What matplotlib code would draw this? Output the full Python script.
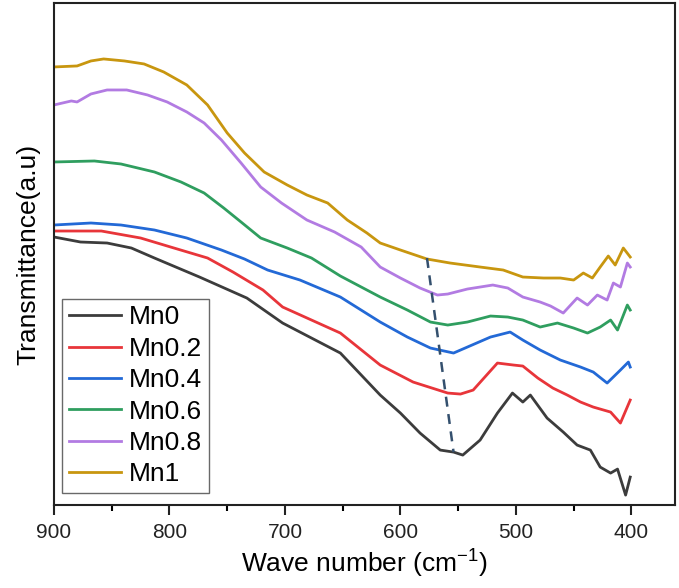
import matplotlib
matplotlib.use("Agg")
import matplotlib.pyplot as plt
from matplotlib.ticker import MultipleLocator

plt.rcParams['font.family'] = ['Liberation Sans', 'DejaVu Sans']

# FTIR spectra, wavenumber (cm-1) vs transmittance (a.u., offset)
mn0_x = [900, 877, 854, 833, 813, 774, 733, 702, 652, 617.5, 600, 583, 565.5, 554, 546, 531,
         516, 503, 494, 487.5, 473, 459, 447, 435.5, 427, 418, 412, 405, 401]
mn0_y = [268, 263, 262, 257, 247, 228, 207, 182, 152, 110, 92, 72, 55, 53, 50, 65,
         92, 112, 103, 110, 87, 73, 60, 55, 38, 32, 36, 10, 28]

mn02_x = [900, 859, 825, 799, 767, 745, 719, 702, 652, 617.5, 589, 559, 548, 537, 516, 502,
          494, 481, 468, 455.5, 444, 433, 418, 409.5, 401]
mn02_y = [274, 274, 267, 258, 247, 233, 215, 198, 172, 140, 123, 112, 111, 115, 142, 140,
          139, 127, 117, 110, 103, 98, 93, 82, 105]

mn04_x = [900, 868, 842, 813, 785, 755, 735, 715, 687, 652, 617.5, 594, 574, 554, 542, 522,
          505, 494, 479, 461.5, 444, 433, 421, 409.5, 402.6, 401]
mn04_y = [280, 282, 280, 275, 267, 255, 246, 235, 225, 208, 183, 168, 157, 152, 158, 168,
          173, 165, 155, 145, 138, 133, 122, 135, 143, 138]

mn06_x = [900, 865, 842, 813, 790, 770, 753, 738, 721, 698, 677, 652, 617.5, 594, 574, 559,
          542, 522, 507, 494, 479, 464, 450, 438, 427, 418, 412, 403.5, 401]
mn06_y = [343, 344, 341, 333, 323, 312, 297, 283, 267, 257, 247, 229, 208, 195, 183, 180,
          183, 189, 188, 185, 178, 182, 177, 172, 178, 185, 175, 200, 195]

mn08_x = [900, 885, 880, 868, 854, 837, 819, 802, 785, 770, 755, 738, 721, 703, 681, 657,
          634, 617.5, 600, 583, 568, 559, 542, 520, 507, 494, 479, 470, 459, 447,
          438, 429.5, 421, 415.6, 409.5, 403.5, 401]
mn08_y = [400, 404, 403, 411, 415, 415, 410, 403, 393, 382, 365, 342, 318, 302, 285, 273,
          258, 238, 227, 217, 210, 211, 216, 220, 217, 208, 203, 199, 192, 207,
          200, 210, 205, 222, 218, 242, 238]

mn1_x = [900, 880, 868, 857, 839, 822, 805, 785, 767, 750, 735, 718, 698, 681, 663, 646,
         629, 617.5, 600, 577, 557, 531, 511, 494, 476, 461.5, 450, 441.6, 433.8, 427,
         420, 414, 407, 401]
mn1_y = [438, 439, 444, 446, 444, 441, 433, 420, 400, 372, 352, 333, 320, 310, 302, 285,
         272, 262, 255, 246, 242, 238, 235, 228, 227, 227, 225, 232, 227, 238,
         249, 240, 257, 248]

# guide through the band minima
guide_x = [577, 554]
guide_y = [247, 53]

labels = ['Mn0', 'Mn0.2', 'Mn0.4', 'Mn0.6', 'Mn0.8', 'Mn1']
colors = ['#3c3c3c', '#e8353a', '#2369d6', '#2f9e5f', '#b27be2', '#c8960f']
series = [(mn0_x, mn0_y), (mn02_x, mn02_y), (mn04_x, mn04_y),
          (mn06_x, mn06_y), (mn08_x, mn08_y), (mn1_x, mn1_y)]

fig = plt.figure(figsize=(6.79, 5.88), dpi=100)
ax = fig.add_axes([0.0795, 0.141, 0.915, 0.854])

for (x, y), lab, c in zip(series, labels, colors):
    ax.plot(x, y, color=c, lw=2, label=lab)

ax.plot(guide_x, guide_y, color='#34506e', lw=1.8, ls=(0, (4, 3)))

ax.set_xlim(900, 362)
ax.set_ylim(0, 502)
ax.xaxis.set_major_locator(MultipleLocator(100))
ax.xaxis.set_minor_locator(MultipleLocator(50))
ax.tick_params(axis='x', which='major', direction='out', length=7, width=1.5,
               labelsize=15, pad=6, colors='#222222')
ax.tick_params(axis='x', which='minor', direction='out', length=4, width=1.5)
ax.set_yticks([])
for s in ax.spines.values():
    s.set_linewidth(1.5)
    s.set_color('#222222')

ax.set_xlabel('Wave number (cm$\\mathregular{^{-1}}$)', fontsize=19, labelpad=4)
ax.set_ylabel('Transmittance(a.u)', fontsize=19, labelpad=10)

leg = ax.legend(loc='lower left', bbox_to_anchor=(0.013, 0.024), borderaxespad=0,
                fontsize=19, frameon=True, fancybox=False, edgecolor='#444444',
                labelspacing=0.28, handlelength=2.0, handletextpad=0.3, borderpad=0.25)
leg.get_frame().set_linewidth(1.0)

fig.savefig('out.png', dpi=100)
